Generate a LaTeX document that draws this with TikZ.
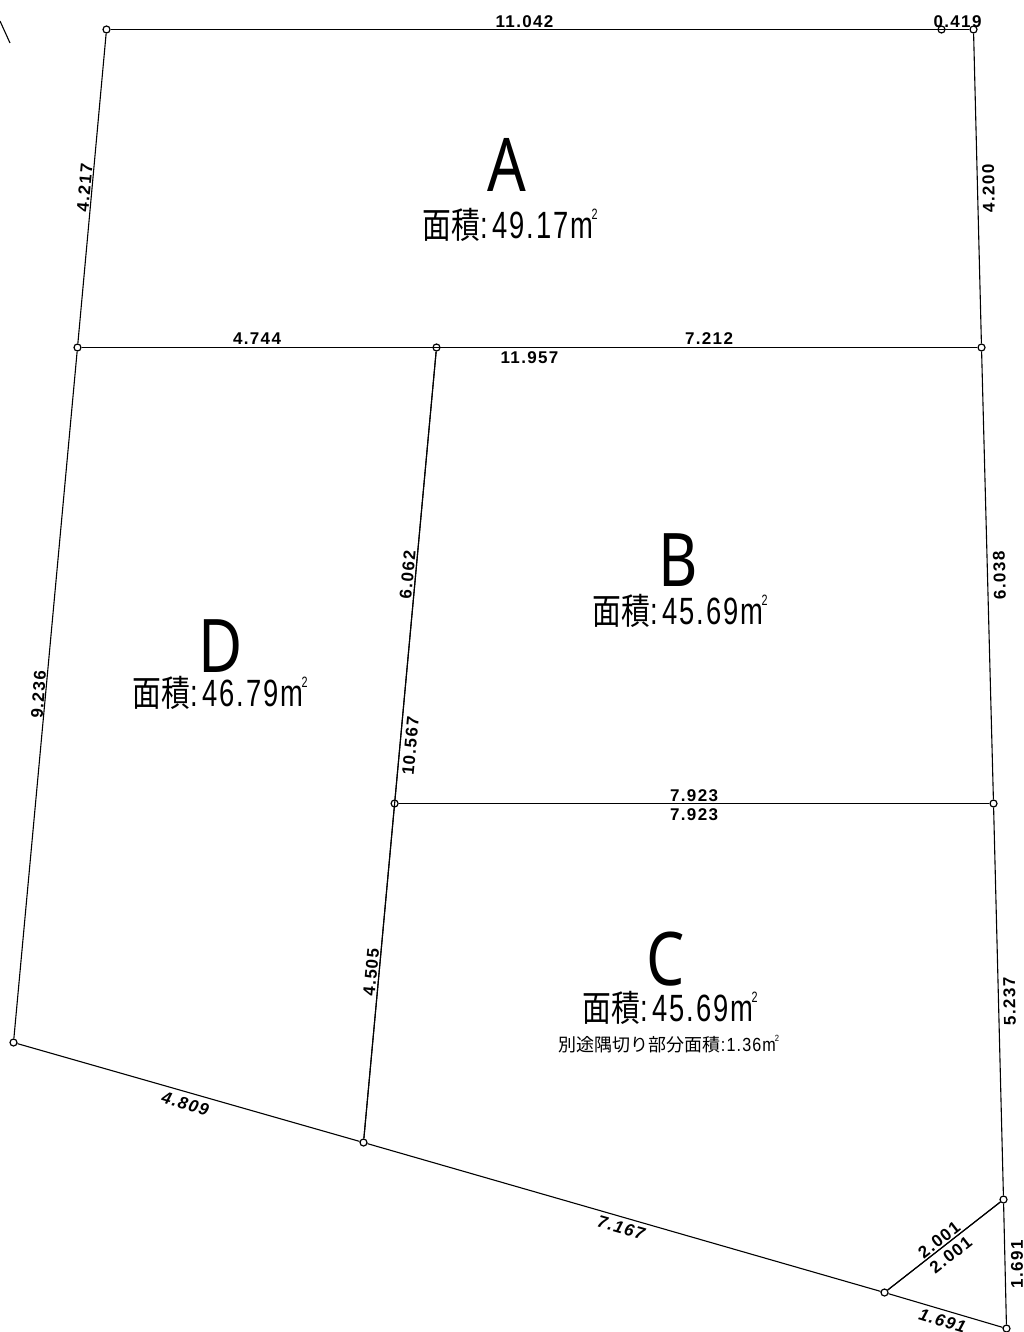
\documentclass[tikz,border=0pt]{standalone}
\usepackage{fontspec}
\setmainfont{Liberation Sans}
\newfontfamily\dimfont[LetterSpace=8]{Liberation Sans}
\newfontfamily\arealatin[FakeStretch=.72,LetterSpace=5]{Liberation Sans}
\newfontfamily\areacjk[FakeStretch=.8]{Noto Sans CJK JP}
\newfontfamily\subcjk{Noto Sans CJK JP}
\newfontfamily\sublatin[FakeStretch=.85,LetterSpace=6]{Liberation Sans}
\newfontfamily\lotfont[FakeStretch=.82]{Noto Sans}
\newcommand{\sqtwo}[1]{\raisebox{.5em}{\fontsize{#1}{#1}\selectfont\kern-.12em 2}}
\newcommand{\bigarea}[1]{{\fontsize{36}{36}\selectfont\areacjk 面積}{\fontsize{38}{38}\selectfont\arealatin :\kern5pt #1m\sqtwo{15}}}
\newcommand{\subarea}[1]{{\fontsize{18}{18}\selectfont\subcjk 別途隅切り部分面積}{\fontsize{19}{19}\selectfont\sublatin :#1m\sqtwo{9}}}
\begin{document}
\begin{tikzpicture}[x=1pt,y=-1pt,-,line width=1.1pt,
	pt node/.style={circle,draw,line width=1.2pt,inner sep=0pt,minimum size=7pt},
	dim node/.style={font=\dimfont\bfseries\fontsize{17}{17}\selectfont,inner sep=0pt},
	slant node/.style={dim node,font=\dimfont\bfseries\itshape\fontsize{17}{17}\selectfont},
	lot node/.style={font=\lotfont\fontsize{74}{74}\selectfont,inner sep=0pt},
	area node/.style={inner sep=0pt}]
			\useasboundingbox (0,0) rectangle (1024,1332);
			% Nodes
			\node[pt node] (tl) at (106.5,29.5) {};
			\node[pt node] (tm) at (941.5,29.5) {};
			\node[pt node] (tr) at (973.5,29.5) {};
			\node[pt node] (ml) at (77.5,347.5) {};
			\node[pt node] (mm) at (436.5,347.5) {};
			\node[pt node] (mr) at (981.5,347.5) {};
			\node[pt node] (cl) at (394.6,803.5) {};
			\node[pt node] (cr) at (993.5,803.5) {};
			\node[pt node] (bl) at (13.5,1042.5) {};
			\node[pt node] (bm) at (363.5,1142.5) {};
			\node[pt node] (cut) at (884.5,1292.5) {};
			\node[pt node] (cr2) at (1003.5,1199.5) {};
			\node[pt node] (br) at (1006.5,1328.5) {};
			\coordinate (stray1) at (0,21);
			\coordinate (stray2) at (10,43);
			
			\node[lot node] (a) at (507,165) {A};
			\node[area node] (aa) at (510,225) {\bigarea{49.17}};
			\node[lot node] (b) at (678,560) {B};
			\node[area node] (ba) at (680,611) {\bigarea{45.69}};
			\node[lot node] (d) at (221,646) {D};
			\node[area node] (da) at (220,693) {\bigarea{46.79}};
			\node[lot node] (c) at (666,959) {C};
			\node[area node] (ca) at (670,1008) {\bigarea{45.69}};
			\node[area node] (cs) at (669,1044) {\subarea{1.36}};
			
			\draw (stray1) -- (stray2);
			
			\path[every node/.style={dim node}]
			(tl)
			edge node[pos=.482, yshift=8pt] {11.042} (tr)
			edge node[rotate=84.8, yshift=7.5pt] {4.217} (ml)
			
			(tm) edge node[yshift=8pt] {0.419} (tr)
			
			(mr)
			edge node[rotate=91.4, yshift=-11pt] {4.200} (tr)
			edge node[rotate=91.5, yshift=-12pt] {6.038} (cr)
			
			(ml)
			edge node[yshift=9pt] {4.744} (mm)
			edge node[yshift=-10pt] {11.957} (mr)
			edge node[rotate=85.8, yshift=7pt] {9.236} (bl)
			
			(mm)
			edge node[yshift=9pt] {7.212} (mr)
			edge node[rotate=84.7, yshift=8pt] {6.062} (cl)
			edge node[rotate=84.7, yshift=-10.5pt] {10.567} (bm)
			
			(cl)
			edge node[yshift=8pt] {7.923} (cr)
			edge node[yshift=-11pt] {7.923} (cr)
			edge node[rotate=84.7, yshift=8pt] {4.505} (bm)
			
			(cr) edge node[rotate=91.2, yshift=-11pt] {5.237} (cr2)
			
			(bl) edge node[slant node, rotate=-16, yshift=-11.4pt] {4.809} (bm)
			(bm) edge node[slant node, rotate=-16, yshift=-10.3pt] {7.167} (cut)
			
			(cut)
			edge node[slant node, rotate=-16.9, yshift=-10.5pt] {1.691} (br)
			edge node[rotate=38, yshift=8pt] {2.001} (cr2)
			edge node[rotate=38, yshift=-11pt] {2.001} (cr2)
			
			(cr2) edge node[rotate=90, yshift=-12pt] {1.691} (br);
			
		\end{tikzpicture}
\end{document}
